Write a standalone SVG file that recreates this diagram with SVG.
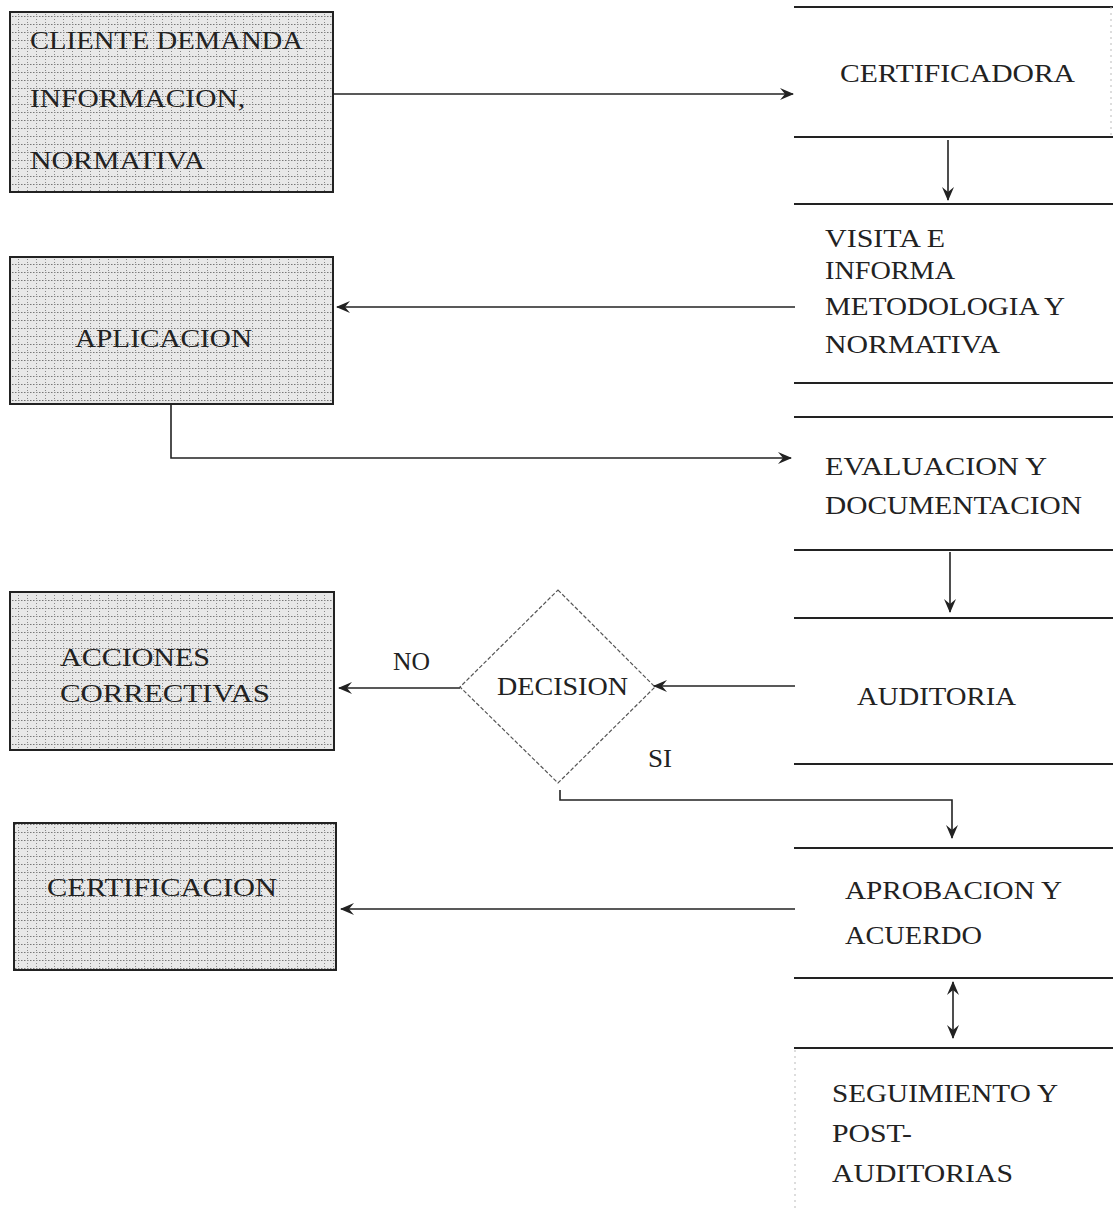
<svg xmlns="http://www.w3.org/2000/svg" width="1113" height="1208" viewBox="0 0 1113 1208">
<defs>
<pattern id="hatch" patternUnits="userSpaceOnUse" width="9" height="8">
<rect width="9" height="8" fill="#e8e8e8"/>
<line x1="0" y1="0.5" x2="9" y2="0.5" stroke="#777" stroke-width="1" stroke-dasharray="1.5,1.5"/>
<line x1="0.5" y1="0" x2="0.5" y2="8" stroke="#888" stroke-width="1" stroke-dasharray="1,2"/>
</pattern>
<marker id="arr" viewBox="0 0 14 12" refX="13" refY="6" markerWidth="14" markerHeight="12" markerUnits="userSpaceOnUse" orient="auto">
<path d="M0,0 L14,6 L0,12 L5,6 Z" fill="#222"/>
</marker>
<marker id="arrs" viewBox="0 0 14 12" refX="1" refY="6" markerWidth="14" markerHeight="12" markerUnits="userSpaceOnUse" orient="auto">
<path d="M14,0 L0,6 L14,12 L9,6 Z" fill="#222"/>
</marker>
</defs>
<style>
text{font-family:"Liberation Serif","DejaVu Serif",serif;font-size:25px;fill:#222;}
.box{fill:url(#hatch);stroke:#222;stroke-width:2;}
.hl{stroke:#222;stroke-width:2;fill:none;}
.edge{stroke:#bbb;stroke-width:1;stroke-dasharray:2,4;fill:none;}
.con{stroke:#222;stroke-width:1.6;fill:none;}
.dia{fill:#fff;stroke:#555;stroke-width:1.2;stroke-dasharray:4,2;}
</style>
<rect width="1113" height="1208" fill="#fff"/>

<g id="cliente">
<rect class="box" x="10" y="12" width="323" height="180"/>
<text x="30" y="49" textLength="273" lengthAdjust="spacingAndGlyphs">CLIENTE DEMANDA</text>
<text x="30" y="107" textLength="215" lengthAdjust="spacingAndGlyphs">INFORMACION,</text>
<text x="30" y="169" textLength="175" lengthAdjust="spacingAndGlyphs">NORMATIVA</text>
</g>

<g id="certificadora">
<line class="hl" x1="794" y1="7" x2="1113" y2="7"/>
<line class="hl" x1="794" y1="137" x2="1113" y2="137"/>
<line class="edge" x1="1111" y1="7" x2="1111" y2="137"/>
<text x="840" y="82" textLength="235" lengthAdjust="spacingAndGlyphs">CERTIFICADORA</text>
</g>

<g id="visita">
<line class="hl" x1="794" y1="204" x2="1113" y2="204"/>
<line class="hl" x1="794" y1="383" x2="1113" y2="383"/>
<text x="825" y="247" textLength="120" lengthAdjust="spacingAndGlyphs">VISITA E</text>
<text x="825" y="279" textLength="130" lengthAdjust="spacingAndGlyphs">INFORMA</text>
<text x="825" y="315" textLength="240" lengthAdjust="spacingAndGlyphs">METODOLOGIA Y</text>
<text x="825" y="353" textLength="175" lengthAdjust="spacingAndGlyphs">NORMATIVA</text>
</g>

<g id="aplicacion">
<rect class="box" x="10" y="257" width="323" height="147"/>
<text x="75" y="347" textLength="177" lengthAdjust="spacingAndGlyphs">APLICACION</text>
</g>

<g id="evaluacion">
<line class="hl" x1="794" y1="417" x2="1113" y2="417"/>
<line class="hl" x1="794" y1="550" x2="1113" y2="550"/>
<text x="825" y="475" textLength="222" lengthAdjust="spacingAndGlyphs">EVALUACION Y</text>
<text x="825" y="514" textLength="257" lengthAdjust="spacingAndGlyphs">DOCUMENTACION</text>
</g>

<g id="auditoria">
<line class="hl" x1="794" y1="618" x2="1113" y2="618"/>
<line class="hl" x1="794" y1="764" x2="1113" y2="764"/>
<text x="857" y="705" textLength="159" lengthAdjust="spacingAndGlyphs">AUDITORIA</text>
</g>

<g id="decision">
<polygon class="dia" points="558,590 655,687 558,783 460,687"/>
<text x="497" y="695" textLength="131" lengthAdjust="spacingAndGlyphs">DECISION</text>
</g>

<g id="acciones">
<rect class="box" x="10" y="592" width="324" height="158"/>
<text x="60" y="666" textLength="150" lengthAdjust="spacingAndGlyphs">ACCIONES</text>
<text x="60" y="702" textLength="210" lengthAdjust="spacingAndGlyphs">CORRECTIVAS</text>
</g>

<g id="certificacion">
<rect class="box" x="14" y="823" width="322" height="147"/>
<text x="47" y="896" textLength="230" lengthAdjust="spacingAndGlyphs">CERTIFICACION</text>
</g>

<g id="aprobacion">
<line class="hl" x1="794" y1="848" x2="1113" y2="848"/>
<line class="hl" x1="794" y1="978" x2="1113" y2="978"/>
<text x="845" y="899" textLength="217" lengthAdjust="spacingAndGlyphs">APROBACION Y</text>
<text x="845" y="944" textLength="137" lengthAdjust="spacingAndGlyphs">ACUERDO</text>
</g>

<g id="seguimiento">
<line class="hl" x1="794" y1="1048" x2="1113" y2="1048"/>
<line class="edge" x1="795" y1="1050" x2="795" y2="1208"/>
<text x="832" y="1102" textLength="226" lengthAdjust="spacingAndGlyphs">SEGUIMIENTO Y</text>
<text x="832" y="1142" textLength="80" lengthAdjust="spacingAndGlyphs">POST-</text>
<text x="832" y="1182" textLength="181" lengthAdjust="spacingAndGlyphs">AUDITORIAS</text>
</g>

<g id="connectors">
<line class="con" x1="333" y1="94" x2="793" y2="94" marker-end="url(#arr)"/>
<line class="con" x1="948" y1="140" x2="948" y2="200" marker-end="url(#arr)"/>
<line class="con" x1="795" y1="307" x2="337" y2="307" marker-end="url(#arr)"/>
<polyline class="con" points="171,405 171,458 791,458" marker-end="url(#arr)"/>
<line class="con" x1="950" y1="552" x2="950" y2="612" marker-end="url(#arr)"/>
<line class="con" x1="795" y1="686" x2="654" y2="686" marker-end="url(#arr)"/>
<line class="con" x1="460" y1="688" x2="339" y2="688" marker-end="url(#arr)"/>
<polyline class="con" points="560,790 560,800 952,800 952,838" marker-end="url(#arr)"/>
<line class="con" x1="795" y1="909" x2="341" y2="909" marker-end="url(#arr)"/>
<line class="con" x1="953" y1="982" x2="953" y2="1038" marker-start="url(#arrs)" marker-end="url(#arr)"/>
<text x="393" y="670" textLength="37" lengthAdjust="spacingAndGlyphs">NO</text>
<text x="648" y="767" textLength="24" lengthAdjust="spacingAndGlyphs">SI</text>
</g>
</svg>
